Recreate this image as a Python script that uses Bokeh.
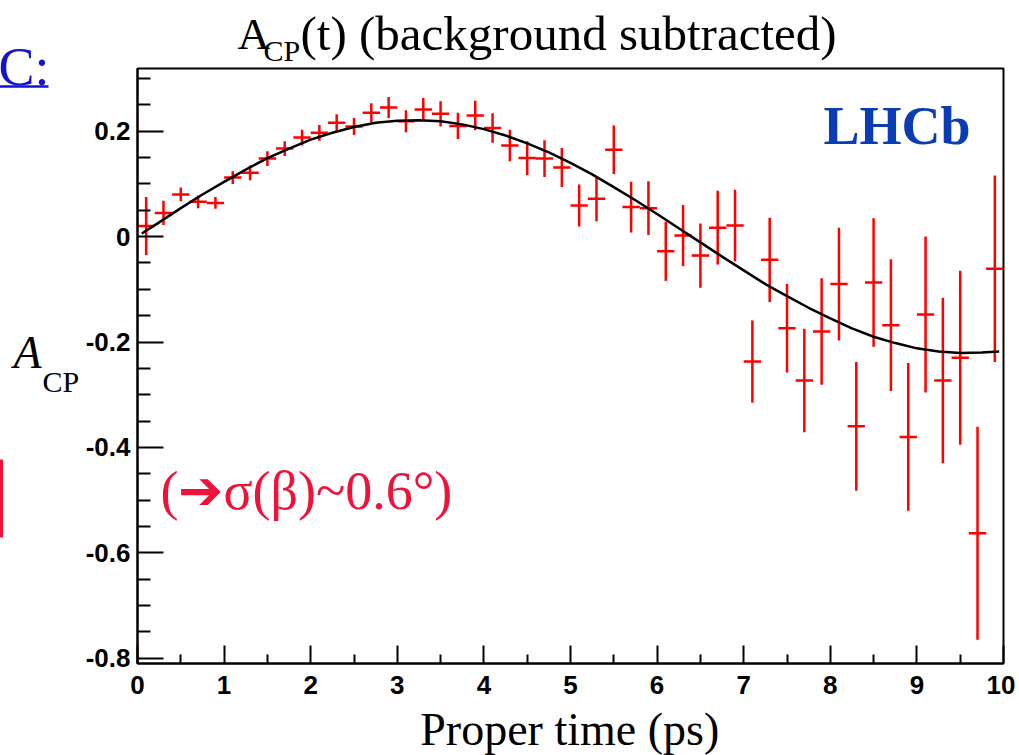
import numpy as np
from bokeh.plotting import figure
from bokeh.models import FixedTicker, PrintfTickFormatter, ColumnDataSource, Range1d
from bokeh.core.properties import value
from bokeh.embed import file_html
from bokeh.resources import INLINE

# ---- data ----
t_bins = [0.1, 0.3, 0.5, 0.7, 0.9, 1.1, 1.3, 1.5, 1.7, 1.9,
          2.1, 2.3, 2.5, 2.7, 2.9, 3.1, 3.3, 3.5, 3.7, 3.9,
          4.1, 4.3, 4.5, 4.7, 4.9, 5.1, 5.3, 5.5, 5.7, 5.9,
          6.1, 6.3, 6.5, 6.7, 6.9, 7.1, 7.3, 7.5, 7.7, 7.9,
          8.1, 8.3, 8.5, 8.7, 8.9, 9.1, 9.3, 9.5, 9.7, 9.9]
acp = [0.020, 0.045, 0.080, 0.066, 0.064, 0.112, 0.121, 0.148, 0.167, 0.188,
       0.197, 0.216, 0.209, 0.235, 0.245, 0.219, 0.241, 0.233, 0.210, 0.230,
       0.206, 0.173, 0.149, 0.148, 0.131, 0.059, 0.072, 0.165, 0.056, 0.054,
       -0.028, 0.002, -0.036, 0.017, 0.021, -0.237, -0.044, -0.174, -0.273, -0.180,
       -0.090, -0.360, -0.087, -0.168, -0.380, -0.148, -0.273, -0.230, -0.563, -0.061]
acp_err = [0.055, 0.023, 0.013, 0.012, 0.011, 0.012, 0.014, 0.014, 0.014, 0.015,
           0.015, 0.016, 0.016, 0.018, 0.020, 0.021, 0.022, 0.024, 0.025, 0.028,
           0.028, 0.030, 0.032, 0.035, 0.037, 0.040, 0.043, 0.046, 0.048, 0.051,
           0.056, 0.058, 0.061, 0.070, 0.068, 0.078, 0.080, 0.084, 0.098, 0.101,
           0.107, 0.122, 0.122, 0.125, 0.140, 0.148, 0.157, 0.165, 0.202, 0.177]
bin_half = 0.1

fit_t = [0.05, 0.25, 0.5, 0.75, 1.0, 1.25, 1.5, 1.75, 2.0, 2.25, 2.5, 2.75,
         3.0, 3.25, 3.5, 3.75, 4.0, 4.25, 4.5, 4.75, 5.0, 5.25, 5.5, 5.75,
         6.0, 6.25, 6.5, 6.75, 7.0, 7.25, 7.5, 7.75, 8.0, 8.25, 8.5, 8.75,
         9.0, 9.25, 9.5, 9.75, 9.95]
fit_v = [0.006, 0.027, 0.054, 0.080, 0.104, 0.127, 0.149, 0.167, 0.184, 0.197, 0.208, 0.216,
         0.220, 0.221, 0.219, 0.213, 0.204, 0.192, 0.177, 0.160, 0.140, 0.118, 0.094, 0.069,
         0.043, 0.016, -0.011, -0.038, -0.064, -0.090, -0.113, -0.135, -0.155, -0.174, -0.190, -0.202,
         -0.212, -0.218, -0.221, -0.220, -0.218]

x_ticks = [0, 1, 2, 3, 4, 5, 6, 7, 8, 9, 10]
y_ticks = [-0.8, -0.6, -0.4, -0.2, 0, 0.2]

# ---- layout ----
W, H = 1015, 755
ML, MR, MT, MB = 137, 12, 68, 92
X0, X1 = 0.0, 10.0
Y0, Y1 = -0.81, 0.319
fw = W - ML - MR
fh = H - MT - MB

def dx(px):  # canvas pixel -> data x
    return X0 + (px - ML) / fw * (X1 - X0)

def dy(py):  # canvas pixel -> data y
    return Y1 - (py - MT) / fh * (Y1 - Y0)

p = figure(width=W, height=H, output_backend="svg", toolbar_location=None,
           x_range=Range1d(X0, X1), y_range=Range1d(Y0, Y1),
           min_border_left=ML, min_border_right=MR, min_border_top=MT,
           min_border_bottom=MB)
p.grid.visible = False
p.background_fill_color = "white"
p.border_fill_color = "white"
p.outline_line_color = "black"
p.outline_line_width = 2
p.outline_line_alpha = 1.0

xminor = [i + 0.5 for i in range(10)]
yminor = [round(-0.8 + 0.05 * k, 3) for k in range(23) if k % 4 != 0]
p.xaxis.ticker = FixedTicker(ticks=x_ticks, minor_ticks=xminor)
p.yaxis.ticker = FixedTicker(ticks=y_ticks, minor_ticks=yminor)
for ax in (p.xaxis[0], p.yaxis[0]):
    ax.formatter = PrintfTickFormatter(format="%g")
    ax.axis_line_width = 2
    ax.axis_line_color = "black"
    ax.major_tick_line_width = 2
    ax.minor_tick_line_width = 2
    ax.major_tick_out = 0
    ax.minor_tick_out = 0
    ax.major_label_text_font = "Liberation Sans"
    ax.major_label_text_font_style = "bold"
    ax.major_label_text_font_size = "26px"
    ax.major_label_text_color = "black"
p.xaxis.major_tick_in = 18
p.xaxis.minor_tick_in = 9
p.yaxis.major_tick_in = 26
p.yaxis.minor_tick_in = 13
p.xaxis.major_label_standoff = 12
p.yaxis.major_label_standoff = 7

t_arr = np.array(t_bins)
v_arr = np.array(acp)
e_arr = np.array(acp_err)
src = ColumnDataSource(dict(t=t_arr, y=v_arr, lo=v_arr - e_arr, hi=v_arr + e_arr,
                            left=t_arr - bin_half, right=t_arr + bin_half))
p.segment(x0="left", y0="y", x1="right", y1="y", source=src,
          line_color="#ff0000", line_width=2.5)
p.segment(x0="t", y0="lo", x1="t", y1="hi", source=src,
          line_color="#ff0000", line_width=2.5)
p.line(fit_t, fit_v, line_color="black", line_width=2.5)

SERIF = "Liberation Serif"

def lab(text, px, py, size, color="black", style="normal", font=SERIF, align="left"):
    p.text(x=[dx(px)], y=[dy(py)], text=[text], text_font=value(font),
           text_font_size=f"{size}px", text_color=color,
           text_font_style=style, text_align=align,
           text_baseline="alphabetic", level="overlay")

# title A_CP(t) (background subtracted)
lab("A", 237, 33, 45)
lab("CP", 263, 50, 30)
lab("(t) (background subtracted)", 300, 33, 49)

# y-axis label A_CP
lab("A", 13, 352, 46, style="italic")
lab("CP", 42, 381, 30)

# x-axis label
lab("Proper time  (ps)", 575, 729, 46, align="center")

# LHCb
lab("LHCb", 823, 125, 54, color="#0a3cb4", style="bold")

# note
lab("(\u2794\u03c3(\u03b2)~0.6\u00b0)", 160, 490, 54, color="#f01238")

# slide fragments at the left edge
lab("C:", -2, 66, 54, color="#1414cc")
p.segment(x0=[dx(-2)], y0=[dy(86)], x1=[dx(48)], y1=[dy(86)],
          line_color="#1414cc", line_width=2.5, level="overlay")
p.segment(x0=[dx(1)], y0=[dy(459)], x1=[dx(1)], y1=[dy(537)],
          line_color="#f01238", line_width=3, level="overlay")

open("out.html", "w").write(file_html(p, INLINE))
